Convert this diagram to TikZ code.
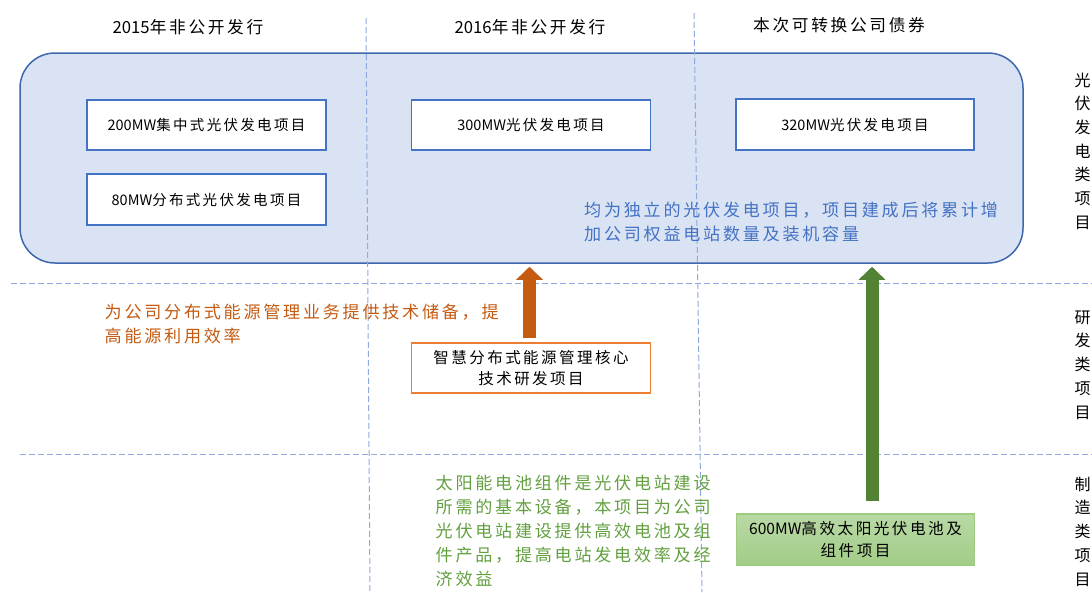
\documentclass[tikz,border=0pt]{standalone}
\usepackage{fontspec}
\usetikzlibrary{arrows.meta,calc}
\newfontfamily\cjk[LetterSpace=16]{Noto Sans CJK SC}
\newfontfamily\cjkn{Noto Sans CJK SC}
\newcommand\lat[1]{{\cjkn #1}}
\definecolor{dashblue}{HTML}{8FAADC}
\definecolor{rectfill}{HTML}{DAE3F3}
\definecolor{rectline}{HTML}{3F67AE}
\definecolor{boxblue}{HTML}{4472C4}
\definecolor{txtorange}{HTML}{C55A11}
\definecolor{boxorange}{HTML}{ED7D31}
\definecolor{txtgreen}{HTML}{62A03F}
\definecolor{arrgreen}{HTML}{548235}
\definecolor{gtop}{HTML}{B9D9A5}
\definecolor{gbot}{HTML}{A2CC87}
\definecolor{gline}{HTML}{9DCB80}
\tikzset{
  guide/.style={dashblue, line width=1pt, dash pattern=on 6pt off 3pt},
  projbox/.style={draw=boxblue, line width=1.8pt, fill=white, minimum width=239, minimum height=50, inner sep=0pt, font=\cjk\fontsize{14.5}{16}\selectfont},
  header/.style={font=\cjk\fontsize{16.7}{20}\selectfont, inner sep=0pt},
  sidelabel/.style={font=\cjk\fontsize{16}{23.7}\selectfont, align=center, inner sep=0pt},
  bodytext/.style={font=\cjk\fontsize{17.1}{24}\selectfont, align=left, anchor=west, inner sep=0pt},
  blockarrow/.style={line width=13pt, -{Triangle[width=26pt,length=13pt]}},
}
\begin{document}
\begin{tikzpicture}[x=1pt,y=-1pt]
\useasboundingbox (0,0) rectangle (1092,592);
% big rounded region
\node[draw=rectline, line width=1.5pt, fill=rectfill, rounded corners=35pt, minimum width=1003, minimum height=210, inner sep=0pt] (pv) at (521.5,158) {};
% guide lines
\draw[guide] (366,18) -- (370,592);
\draw[guide] (694,13) -- (702,592);
\draw[guide] (11,283) -- (1092,283);
\draw[guide] (20,454) -- (1092,454);
% headers
\node[header] (h1) at (188,27) {\lat{2015}年非公开发行};
\node[header] (h2) at (530,27) {\lat{2016}年非公开发行};
\node[header] (h3) at (839,25) {本次可转换公司债券};
% project boxes
\node[projbox] (b200) at (206.5,125) {\lat{200MW}集中式光伏发电项目};
\node[projbox, minimum height=51] (b80) at (206.5,199.5) {\lat{80MW}分布式光伏发电项目};
\node[projbox] (b300) at (531,125) {\lat{300MW}光伏发电项目};
\node[projbox, minimum width=238, minimum height=51] (b320) at (855,124.5) {\lat{320MW}光伏发电项目};
% blue text
\node[bodytext, text=boxblue] (note1) at (584,221.5) {均为独立的光伏发电项目，项目建成后将累计增\\加公司权益电站数量及装机容量};
% orange
\node[bodytext, text=txtorange] (note2) at (104.5,324) {为公司分布式能源管理业务提供技术储备，提\\高能源利用效率};
\node[draw=boxorange, line width=1.8pt, fill=white, minimum width=239, minimum height=50, inner sep=0pt, align=center, font=\cjk\fontsize{15.5}{21}\selectfont] (rd) at (531,368) {智慧分布式能源管理核心\\技术研发项目};
% green
\node[bodytext, text=txtgreen] (note3) at (435.5,531) {太阳能电池组件是光伏电站建设\\所需的基本设备，本项目为公司\\光伏电站建设提供高效电池及组\\件产品，提高电站发电效率及经\\济效益};
\node[draw=gline, line width=1.5pt, top color=gtop, bottom color=gbot, minimum width=238, minimum height=51, inner sep=0pt, align=center, font=\cjk\fontsize{15.6}{22}\selectfont] (mf) at (855.5,539.5) {\lat{600MW}高效太阳光伏电池及\\组件项目};
% arrows
\coordinate (oa) at ($(rd.north)+(-1.5,0)$);
\draw[blockarrow, txtorange, shorten <=4pt, shorten >=3pt] (oa) -- (oa |- pv.south);
\coordinate (ga) at ($(mf.north)+(16.5,0)$);
\draw[blockarrow, arrgreen, shorten <=12pt, shorten >=3pt] (ga) -- (ga |- pv.south);
% side labels
\node[sidelabel] (s1) at (1082.5,151) {光\\伏\\发\\电\\类\\项\\目};
\node[sidelabel] (s2) at (1082.5,365) {研\\发\\类\\项\\目};
\node[sidelabel] (s3) at (1082.5,531.5) {制\\造\\类\\项\\目};
\end{tikzpicture}
\end{document}
